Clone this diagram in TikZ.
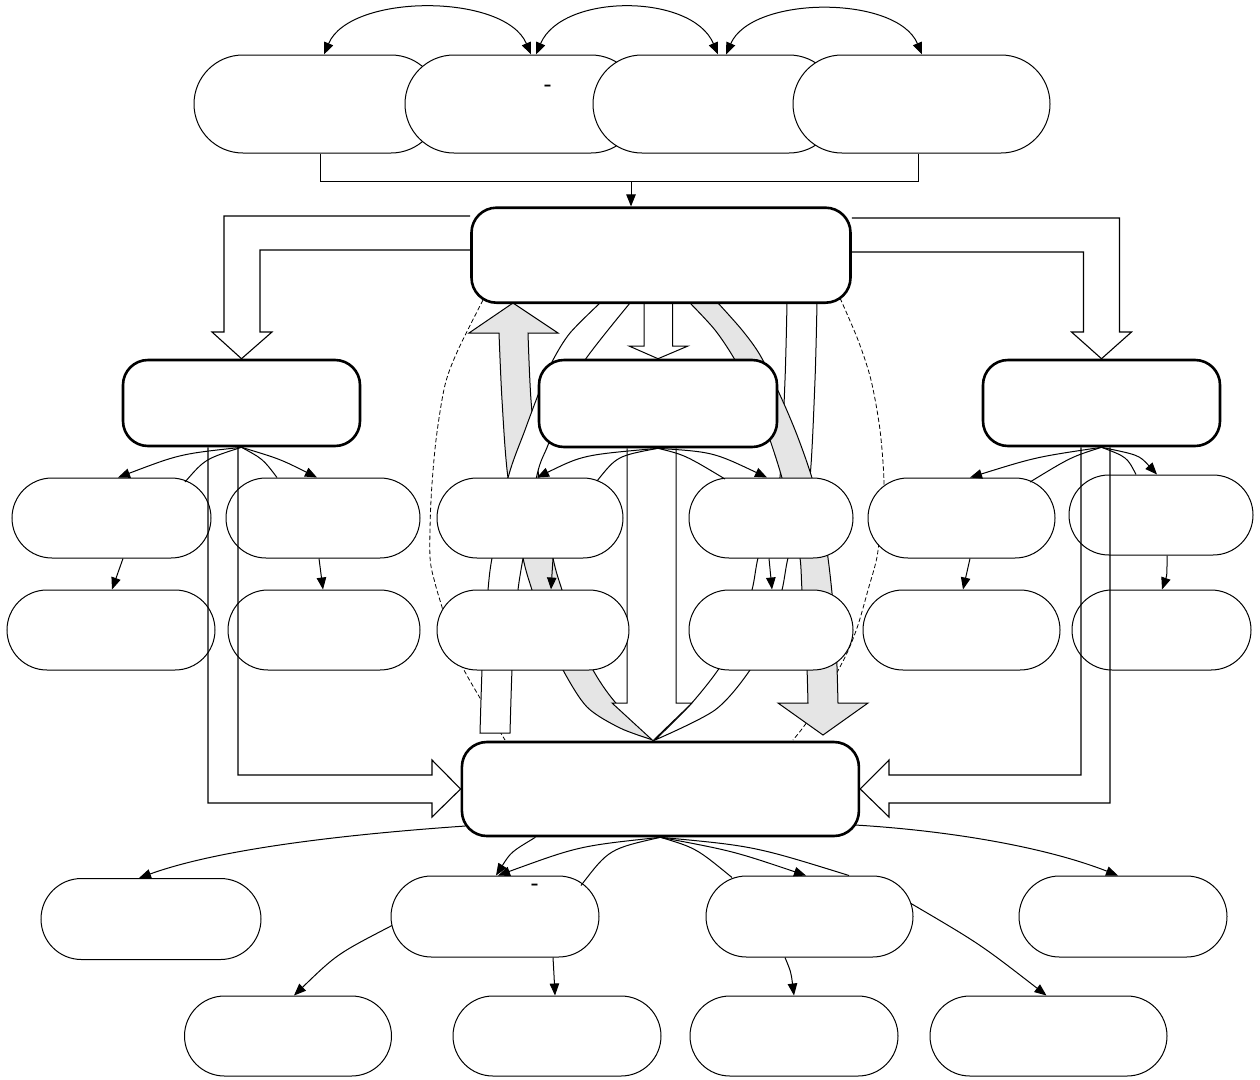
\documentclass[tikz,border=0pt]{standalone}
\usetikzlibrary{shapes.misc,arrows.meta,calc}
\pgfdeclarelayer{bg}
\pgfsetlayers{bg,main}
\begin{document}
\begin{tikzpicture}[x=1pt,y=-1pt,
  mainbox/.style={draw, line width=2.6pt, rounded corners=25pt, fill=white, inner sep=0pt},
  oval/.style={draw, rounded rectangle, fill=white, line width=1pt, inner sep=0pt},
  conn/.style={line width=1pt},
  arr/.style={conn, -{Triangle[length=12pt,width=9.5pt]}},
  darr/.style={conn, {Triangle[length=12pt,width=9.5pt]}-{Triangle[length=12pt,width=9.5pt]}},
  blk/.style={line width=1.1pt},
  gband/.style={draw, fill=gray!20, line width=1pt},
  wband/.style={draw, fill=white, line width=1pt},
  dsh/.style={line width=0.8pt, dash pattern=on 4.5pt off 2.5pt},
  dashtxt/.style={font=\bfseries\fontsize{20}{20}\selectfont, inner sep=0pt}
]
\useasboundingbox (0,0) rectangle (1260,1079);

% ---------- nodes ----------
\node[oval, minimum width=246pt, minimum height=98pt] (tA) at (317,104) {};
\node[oval, minimum width=235pt, minimum height=98pt] (tB) at (522.5,104) {};
\node[oval, minimum width=245pt, minimum height=98pt] (tC) at (715.5,104) {};
\node[oval, minimum width=257pt, minimum height=98pt] (tD) at (921.5,104) {};
\node[dashtxt] (d1) at (548,88) {-};

\node[mainbox, minimum width=379pt, minimum height=95pt] (M1) at (661,255.2) {};
\node[mainbox, minimum width=237pt, minimum height=86pt] (L) at (241.5,403) {};
\node[mainbox, minimum width=238pt, minimum height=87pt] (C) at (658,403.5) {};
\node[mainbox, minimum width=237pt, minimum height=86pt] (R) at (1101.5,403) {};

\node[oval, minimum width=199pt, minimum height=80pt] (r3a) at (111.5,518) {};
\node[oval, minimum width=194pt, minimum height=80pt] (r3b) at (323,518) {};
\node[oval, minimum width=186pt, minimum height=80pt] (r3c) at (530,518) {};
\node[oval, minimum width=164pt, minimum height=80pt] (r3d) at (771,518) {};
\node[oval, minimum width=187pt, minimum height=80pt] (r3e) at (961.5,518) {};
\node[oval, minimum width=184pt, minimum height=80pt] (r3f) at (1161,515) {};

\node[oval, minimum width=208pt, minimum height=80pt] (r4a) at (111,630) {};
\node[oval, minimum width=192pt, minimum height=80pt] (r4b) at (324,630) {};
\node[oval, minimum width=192pt, minimum height=80pt] (r4c) at (533,630) {};
\node[oval, minimum width=164pt, minimum height=80pt] (r4d) at (771,630) {};
\node[oval, minimum width=197pt, minimum height=80pt] (r4e) at (961.5,630) {};
\node[oval, minimum width=179pt, minimum height=80pt] (r4f) at (1161.5,630) {};

\node[mainbox, minimum width=397pt, minimum height=94pt] (B) at (660.4,789) {};

\node[oval, minimum width=220pt, minimum height=81pt] (r5a) at (151,919) {};
\node[oval, minimum width=208pt, minimum height=81pt] (r5b) at (495,916.5) {};
\node[oval, minimum width=207pt, minimum height=81pt] (r5c) at (809.5,916.5) {};
\node[oval, minimum width=208pt, minimum height=81pt] (r5d) at (1123,916.5) {};
\node[dashtxt] (d2) at (535,887) {-};

\node[oval, minimum width=207pt, minimum height=80pt] (r6a) at (288,1036) {};
\node[oval, minimum width=208pt, minimum height=80pt] (r6b) at (557,1036) {};
\node[oval, minimum width=208pt, minimum height=80pt] (r6c) at (794,1036) {};
\node[oval, minimum width=237pt, minimum height=80pt] (r6d) at (1048.5,1036) {};

% ---------- background layer: bands ----------
\begin{pgfonlayer}{bg}
\fill[white] (0,0) rectangle (1260,1079);
\draw[dsh] plot[smooth] coordinates {(483,300) (458,350) (445,385) (436,440) (431,500) (430,557) (435,583) (442,607) (452,640) (463,668) (480,698) (505,740)};
\draw[dsh] plot[smooth] coordinates {(840,298) (858,340) (871,380) (880,430) (884,483) (881,520) (877,557) (868,590) (858,625) (847,653) (830,685) (807,722) (793,740)};
% left grey curved arrow
\draw[gband] plot[smooth] coordinates {(653,740) (620,728) (587,707) (563,670) (545,630) (532,590) (523,558) (508,478) (502,400) (499,333)} -- (469,333) -- (513,303) -- (558,333) -- (528,333) -- plot[smooth] coordinates {(528,333) (531,400) (539,478) (553,558) (562,590) (575,630) (593,670) (615,702) (653,740)} -- cycle;
% left white band
\draw[wband] plot[smooth] coordinates {(600,303) (570,333) (553,360) (540,390) (525,430) (508,478) (492,558) (488,590) (484,640) (482,670) (480,733)} -- plot[smooth] coordinates {(510,733) (512,670) (515,630) (518,590) (523,558) (537,475) (548,445) (565,400) (585,360) (630,303)} -- cycle;
% right white band
\draw[wband] plot[smooth] coordinates {(787,303) (785,380) (780,477) (770,520) (758,558) (752,590) (738,635) (718,670) (690,705) (655,740)} -- plot[smooth] coordinates {(655,740) (715,710) (750,670) (770,630) (782,590) (788,558) (800,520) (810,477) (815,380) (817,303)} -- cycle;
% right grey curved arrow
\draw[gband] plot[smooth] coordinates {(690,303) (715,330) (735,360) (755,400) (770,440) (782,478) (792,520) (800,558) (802,590) (806,640) (808,703)} -- (778,703) -- (823,735) -- (868,703) -- (838,703) -- plot[smooth] coordinates {(838,703) (836,640) (832,593) (828,558) (822,520) (812,478) (797,435) (780,395) (760,355) (742,330) (718,303)} -- cycle;
% white straight arrows
\draw[wband] (C.south -| 627,0) -- (627,703) -- (612,703) -- (B.north -| 653,0) -- (692,703) -- (676,703) -- (C.south -| 676,0);
\draw[wband] (M1.south -| 644,0) -- (644,346) -- (629,346) -- (C.north) -- (688,346) -- (672.5,346) -- (M1.south -| 672.5,0);
\end{pgfonlayer}

% ---------- block arrows ----------
\draw[blk] (M1.west |- 0,216) -- (224,216) -- (224,332) -- (212,332) -- (L.north) -- (272,332) -- (260,332) -- (260,250) -- (M1.west |- 0,250);
\draw[blk] (M1.east |- 0,218) -- (1119.5,218) -- (1119.5,332) -- (1131.5,332) -- (R.north) -- (1071.5,332) -- (1083.5,332) -- (1083.5,252) -- (M1.east |- 0,252);
\draw[blk] (L.south -| 208,0) -- (208,803) -- (432,803) -- (432,817) -- (B.west) -- (432,760) -- (432,775) -- (238,775) -- (L.south -| 238,0);
\draw[blk] (R.south -| 1110,0) -- (1110,803) -- (889,803) -- (889,817) -- (B.east) -- (889,760) -- (889,775) -- (1081,775) -- (R.south -| 1081,0);

% ---------- top connectors ----------
\draw[darr] ([xshift=7pt]tA.north) .. controls (350,-7) and (505,-7) .. ([xshift=8.5pt]tB.north);
\draw[darr] ([xshift=13.5pt]tB.north) .. controls (562,-7) and (692,-7) .. ([xshift=2.5pt]tC.north);
\draw[darr] ([xshift=10.5pt]tC.north) .. controls (752,-5) and (897,-5) .. ([xshift=0.5pt]tD.north);
\coordinate (brk) at (631,181);
\draw[conn] ([xshift=3pt]tA.south) -- ++(0,28) -| ([xshift=-3.5pt]tD.south);
\draw[arr] (brk) -- (M1.north -| brk);

% ---------- L, C, R fan-outs ----------
\draw[arr] (L.south) .. controls (180,454) .. ($(r3a.north)+(6.5,0)$);
\draw[conn] (L.south) .. controls (205,459) .. ($(r3a.center)+(73.5,-36)$);
\draw[conn] (L.south) .. controls (263,459) .. ($(r3b.north)+(-46,0)$);
\draw[arr] (L.south) .. controls (280,459) .. ($(r3b.north)+(-6,0)$);

\draw[arr] (C.south) .. controls (583,455) .. ($(r3c.north)+(7,0)$);
\draw[conn] (C.south) .. controls (617,456) .. ($(r3c.center)+(67,-37)$);
\draw[conn] (C.south) .. controls (685,455) .. ($(r3d.center)+(-46,-39)$);
\draw[arr] (C.south) .. controls (713,452) .. ($(r3d.north)+(-4,0)$);

\draw[arr] (R.south) .. controls (1036,457) .. ($(r3e.north)+(8.5,0)$);
\draw[conn] (R.south) .. controls (1071,457) .. ($(r3e.center)+(68.5,-36)$);
\draw[conn] (R.south) .. controls (1127,457) .. ($(r3f.north)+(-25,0)$);
\draw[arr] (R.south) .. controls (1139,455) .. ($(r3f.north)+(-4,0)$);

% ---------- row 3 -> row 4 ----------
\draw[arr] ($(r3a.south)+(11.5,0)$) -- ($(r4a.north)+(1,0)$);
\draw[arr] ($(r3b.south)+(-4,0)$) -- ($(r4b.north)+(-1,0)$);
\draw[arr] ($(r3c.south)+(23,0)$) -- ($(r4c.north)+(18,0)$);
\draw[arr] ($(r3d.south)+(-2,0)$) -- ($(r4d.north)+(1,0)$);
\draw[arr] ($(r3e.south)+(8.5,0)$) -- ($(r4e.north)+(1.5,0)$);
\draw[arr] ($(r3f.south)+(6,0)$) .. controls (1167,575) .. ($(r4f.north)+(0.5,0)$);

% ---------- B fan-out ----------
\draw[arr] ($(B.center)+(-195,37)$) .. controls (380,832) and (230,845) .. ($(r5a.north)+(-12,0)$);
\draw[arr] ($(B.south)+(-125,0)$) .. controls (511,852) .. ($(r5b.north)+(1,0)$);
\draw[arr] (B.south) .. controls (579,846) .. ($(r5b.north)+(3,0)$);
\draw[conn] (B.south) .. controls (609,849) .. ($(r5b.center)+(86,-31)$);
\draw[conn] (B.south) .. controls (696,848) .. ($(r5c.center)+(-77.5,-39)$);
\draw[arr] (B.south) .. controls (733,851) .. ($(r5c.north)+(-3.5,0)$);
\draw[conn] (B.south) .. controls (754,846) .. ($(r5c.north)+(39.5,0)$);
\draw[arr] ($(B.center)+(194.6,36)$) .. controls (940,830) and (1040,845) .. ($(r5d.north)+(-5,0)$);

% ---------- row 5 -> row 6 ----------
\draw[arr] ($(r5b.center)+(-103,9)$) .. controls (337,954) .. ($(r6a.north)+(6,0)$);
\draw[arr] ($(r5b.south)+(58,0)$) .. controls (554,975) .. ($(r6b.north)+(-2,0)$);
\draw[arr] ($(r5c.south)+(-24.5,0)$) .. controls (791,972) .. (r6c.north);
\draw[arr] ($(r5c.center)+(101.5,-13)$) .. controls (980,944) .. ($(r6d.north)+(-2,0)$);
\end{tikzpicture}
\end{document}
